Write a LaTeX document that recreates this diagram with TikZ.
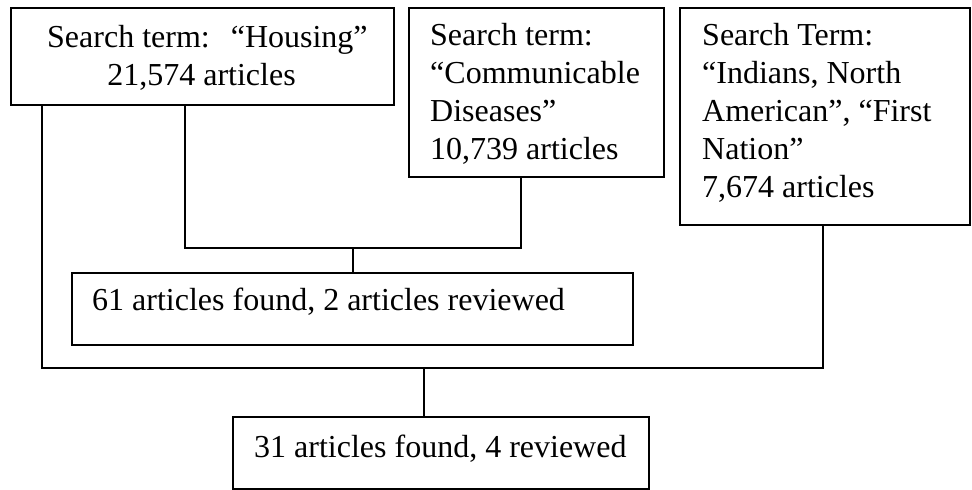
\documentclass[tikz,border=0pt]{standalone}
\usepackage{fontspec}
\setmainfont{Liberation Serif}
\usetikzlibrary{calc}
\begin{document}
\begin{tikzpicture}[x=1pt,y=-1pt,
  box/.style={draw, line width=1.6pt, anchor=north west, inner sep=0pt},
  txt/.style={anchor=base west, inner sep=0pt, font=\fontsize{32}{38}\selectfont},
  ctxt/.style={anchor=base, inner sep=0pt, font=\fontsize{32}{38}\selectfont},
  conn/.style={line width=1.6pt}]
\useasboundingbox (0,0) rectangle (972,490);
% boxes
\node[box, minimum width=383pt, minimum height=97pt] (b1) at (10,7) {};
\node[box, minimum width=255pt, minimum height=169pt] (b2) at (408,7) {};
\node[box, minimum width=290pt, minimum height=217pt] (b3) at (679,7) {};
\node[box, minimum width=561pt, minimum height=72pt] (b4) at (71,272) {};
\node[box, minimum width=416pt, minimum height=72pt] (b5) at (232,416) {};
% texts
\node[txt] (t1a) at (47,47) {Search term:\hspace{21pt}“Housing”};
\node[ctxt] (t1b) at (201.5,85) {21,574 articles};
\node[txt] (t2a) at (430,45) {Search term:};
\node[txt] (t2b) at (430,83) {“Communicable};
\node[txt] (t2c) at (430,121) {Diseases”};
\node[txt] (t2d) at (430,159) {10,739 articles};
\node[txt] (t3a) at (702,45) {Search Term:};
\node[txt] (t3b) at (702,83) {“Indians, North};
\node[txt] (t3c) at (702,121) {American”, “First};
\node[txt] (t3d) at (702,159) {Nation”};
\node[txt] (t3e) at (702,197) {7,674 articles};
\node[txt] (t4) at (92,310) {61 articles found, 2 articles reviewed};
\node[txt] (t5) at (254,457) {31 articles found, 4 reviewed};
% connector points
\coordinate (j1) at (185,248);
\coordinate (j1r) at (521,248);
\coordinate (m1) at (353,248);
\coordinate (j2) at (42,368);
\coordinate (j2r) at (823,368);
\coordinate (m2) at (424,368);
% connectors
\draw[conn] (b1.south west -| j1) -- (j1) -- (j1r) -- (b2.south west -| j1r);
\draw[conn] (m1) -- (b4.north west -| m1);
\draw[conn] (b1.south west -| j2) -- (j2) -- (j2r) -- (b3.south west -| j2r);
\draw[conn] (m2) -- (b5.north west -| m2);
\end{tikzpicture}
\end{document}
